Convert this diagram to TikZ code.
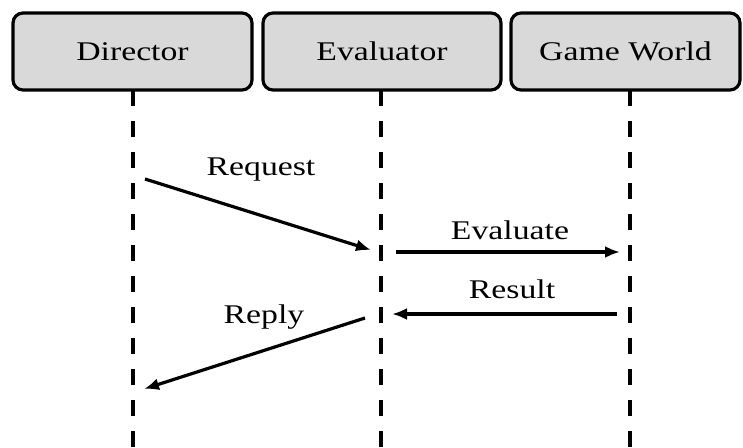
\documentclass[tikz,border=0pt]{standalone}
\usepackage{fontspec}
\setmainfont{Liberation Serif}
\usetikzlibrary{arrows.meta}
\newcommand{\wtxt}[1]{\scalebox{1.25}[1]{#1}}
\definecolor{boxgray}{HTML}{D9D9D9}
\tikzset{
  actor/.style={draw=black, line width=3.2pt, rounded corners=10pt, fill=boxgray,
    minimum height=77pt, inner sep=0pt, font=\fontsize{27}{32}\selectfont},
  lifeline/.style={line width=3.2pt, dash pattern=on 16pt off 15pt},
  msg/.style={line width=3.2pt, -{Latex[length=15pt,width=12pt]}},
  lbl/.style={anchor=base, inner sep=0pt, font=\fontsize{27}{32}\selectfont}
}
\begin{document}
\begin{tikzpicture}[x=1pt,y=-1pt]
\useasboundingbox (0,0) rectangle (743,447);
\node[actor, minimum width=239pt] (dir) at (132.5,51.5) {\wtxt{Director}};
\node[actor, minimum width=238pt] (eva) at (382,51.5) {\wtxt{Evaluator}};
\node[actor, minimum width=229pt] (gw) at (625.5,51.5) {\wtxt{Game World}};
\coordinate (dirb) at (133,447);
\coordinate (evab) at (381,447);
\coordinate (gwb) at (630,447);
\draw[lifeline] (133,90) -- (dirb);
\draw[lifeline] (381,90) -- (evab);
\draw[lifeline] (630,90) -- (gwb);
\coordinate (r1) at (145,179);
\coordinate (r2) at (371,250);
\coordinate (e1) at (396,252);
\coordinate (e2) at (620,252);
\coordinate (s1) at (617,314);
\coordinate (s2) at (392,314);
\coordinate (p1) at (365,318);
\coordinate (p2) at (144,389);
\draw[msg] (r1) -- (r2);
\draw[msg] (e1) -- (e2);
\draw[msg] (s1) -- (s2);
\draw[msg] (p1) -- (p2);
\node[lbl] (lreq) at (261,175) {\wtxt{Request}};
\node[lbl] (leva) at (510,239) {\wtxt{Evaluate}};
\node[lbl] (lres) at (512,298) {\wtxt{Result}};
\node[lbl] (lrep) at (264,323) {\wtxt{Reply}};
\end{tikzpicture}
\end{document}
